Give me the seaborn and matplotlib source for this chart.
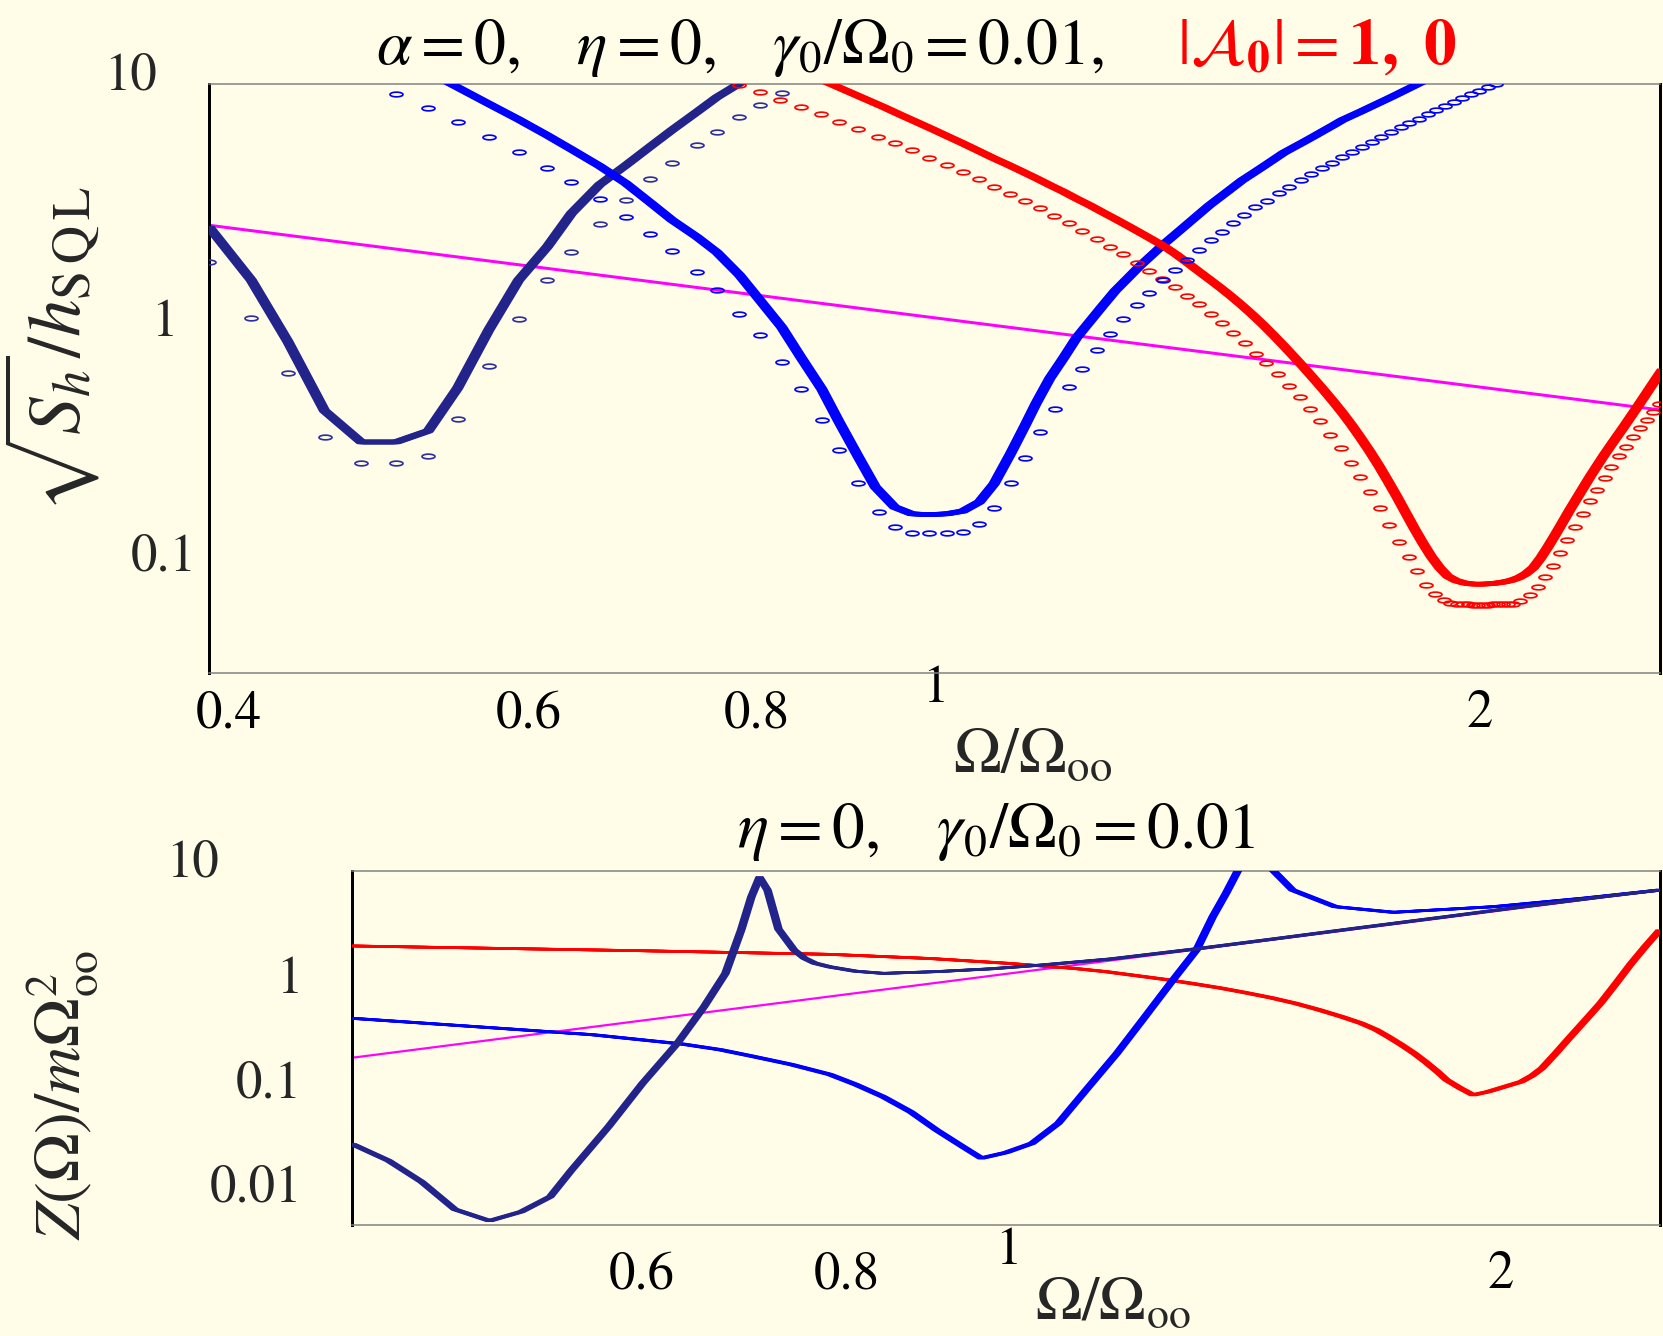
import numpy as np
import matplotlib
matplotlib.use("Agg")
import matplotlib.pyplot as plt
from matplotlib.path import Path
from matplotlib.transforms import ScaledTranslation
from matplotlib.ticker import FixedLocator, NullFormatter, LogLocator
import seaborn as sns

# ---------------- top panel data ----------------
navy_x = [0.400, 0.422, 0.442, 0.463, 0.485, 0.507, 0.528, 0.548, 0.570, 0.592, 0.614,
          0.633, 0.656, 0.678, 0.699, 0.719, 0.742, 0.761, 0.783, 0.804, 0.826]
navy_line_y = [2.44, 1.445, 0.79, 0.40, 0.294, 0.294, 0.328, 0.50, 0.884, 1.445, 2.01,
               2.79, 3.70, 4.47, 5.36, 6.33, 7.56, 8.74, 10.0, 11.3, 12.6]
navy_mark_y = [1.72, 1.00, 0.578, 0.31, 0.239, 0.238, 0.256, 0.37, 0.62, 0.982, 1.44,
               1.91, 2.51, 3.18, 3.90, 4.59, 5.45, 6.23, 7.21, 8.09, 9.14]

blue_line_x = [0.528, 0.548, 0.570, 0.592, 0.614, 0.633, 0.656, 0.678, 0.699, 0.719,
               0.742, 0.761, 0.783, 0.804, 0.826, 0.846, 0.869, 0.888, 0.910, 0.930,
               0.953, 0.974, 0.995, 1.018, 1.039, 1.061, 1.081, 1.104, 1.124, 1.14,
               1.16, 1.18, 1.20, 1.22, 1.24, 1.26, 1.28, 1.30, 1.32, 1.34,
               1.36, 1.38, 1.40, 1.42, 1.44, 1.46, 1.48, 1.50, 1.52, 1.54,
               1.56, 1.58, 1.60, 1.62, 1.64, 1.66, 1.68, 1.70, 1.72, 1.74,
               1.76, 1.78, 1.80, 1.82, 1.84, 1.86, 1.88]
blue_line_y = [11.2, 9.63, 8.19, 7.02, 6.0, 5.23, 4.44, 3.75, 3.11, 2.61,
               2.21, 1.90, 1.52, 1.18, 0.91, 0.68, 0.495, 0.36, 0.255, 0.189,
               0.155, 0.145, 0.144, 0.145, 0.149, 0.163, 0.195, 0.263, 0.345, 0.43,
               0.55, 0.67, 0.82, 0.96, 1.12, 1.30, 1.47, 1.66, 1.85, 2.06,
               2.27, 2.50, 2.75, 3.02, 3.28, 3.56, 3.86, 4.13, 4.42, 4.73,
               5.06, 5.34, 5.63, 5.94, 6.27, 6.61, 6.98, 7.28, 7.59, 7.92,
               8.26, 8.61, 8.98, 9.37, 9.77, 10.19, 10.6]
blue_mark_x = [0.507, 0.528, 0.548, 0.570, 0.592, 0.614, 0.633, 0.656, 0.678, 0.699,
               0.719, 0.742, 0.761, 0.783, 0.804, 0.826, 0.846, 0.869, 0.888, 0.910,
               0.934, 0.953, 0.974, 0.995, 1.018, 1.039, 1.061, 1.081, 1.104, 1.124,
               1.146, 1.167, 1.188, 1.209, 1.231, 1.252, 1.273, 1.295, 1.315, 1.338,
               1.359, 1.380, 1.402, 1.423, 1.443, 1.463, 1.483, 1.505, 1.528, 1.550,
               1.570, 1.594, 1.614, 1.637, 1.658, 1.679, 1.700, 1.722, 1.744, 1.764,
               1.786, 1.809, 1.828, 1.851, 1.872, 1.891, 1.914, 1.936, 1.956, 1.977,
               1.998, 2.020, 2.041]
blue_mark_y = [9.02, 7.88, 6.85, 5.93, 5.10, 4.35, 3.79, 3.20, 2.70, 2.28,
               1.93, 1.57, 1.31, 1.04, 0.84, 0.647, 0.495, 0.365, 0.271, 0.196,
               0.147, 0.127, 0.120, 0.120, 0.120, 0.121, 0.131, 0.154, 0.196, 0.25,
               0.324, 0.405, 0.503, 0.60, 0.726, 0.85, 0.99, 1.13, 1.27, 1.445,
               1.60, 1.77, 1.94, 2.14, 2.33, 2.54, 2.74, 2.96, 3.16, 3.40,
               3.62, 3.87, 4.09, 4.34, 4.59, 4.84, 5.11, 5.37, 5.64, 5.93,
               6.22, 6.54, 6.80, 7.06, 7.38, 7.70, 8.01, 8.36, 8.64, 9.01,
               9.32, 9.69, 10.0]

red_line_x = [0.86, 0.88, 0.90, 0.92, 0.94, 0.96, 0.98, 1.00, 1.02, 1.04, 1.06, 1.08,
              1.10, 1.12, 1.14, 1.16, 1.18, 1.20, 1.22, 1.24, 1.26, 1.28, 1.30, 1.32,
              1.34, 1.36, 1.38, 1.40, 1.42, 1.44, 1.46, 1.48, 1.50, 1.52, 1.54, 1.56,
              1.58, 1.60, 1.62, 1.64, 1.66, 1.68, 1.70, 1.72, 1.74, 1.76, 1.78, 1.80,
              1.82, 1.84, 1.86, 1.88, 1.90, 1.92, 1.94, 1.96, 1.98, 2.00, 2.02, 2.04,
              2.06, 2.08, 2.10, 2.12, 2.14, 2.16, 2.18, 2.20, 2.22, 2.24, 2.26, 2.28,
              2.30, 2.32, 2.34, 2.36, 2.38, 2.40, 2.42, 2.44, 2.46, 2.48, 2.50, 2.52]
red_line_y = [10.73, 9.92, 9.19, 8.53, 7.93, 7.35, 6.84, 6.37, 5.93, 5.53, 5.15, 4.80,
              4.50, 4.21, 3.94, 3.68, 3.45, 3.22, 3.02, 2.82, 2.64, 2.47, 2.31, 2.16,
              2.02, 1.87, 1.72, 1.58, 1.455, 1.34, 1.23, 1.125, 1.025, 0.93, 0.84, 0.757,
              0.681, 0.612, 0.549, 0.492, 0.44, 0.392, 0.347, 0.305, 0.267, 0.232, 0.20, 0.172,
              0.147, 0.126, 0.109, 0.0955, 0.0855, 0.0785, 0.0752, 0.0735, 0.0727, 0.0726, 0.0728, 0.0733,
              0.0741, 0.0753, 0.0773, 0.0805, 0.0855, 0.094, 0.105, 0.118, 0.133, 0.150, 0.168, 0.188,
              0.210, 0.233, 0.258, 0.284, 0.312, 0.342, 0.376, 0.413, 0.454, 0.499, 0.548, 0.60]
red_mark_x = [0.783, 0.804, 0.824, 0.846, 0.868, 0.888, 0.910, 0.933, 0.953, 0.974,
              0.995, 1.018, 1.039, 1.061, 1.081, 1.103, 1.124, 1.146, 1.166, 1.189,
              1.209, 1.231, 1.252, 1.273, 1.295, 1.315, 1.337, 1.359, 1.380, 1.402,
              1.423, 1.443, 1.463, 1.485, 1.507, 1.526, 1.548, 1.570, 1.592, 1.613,
              1.634, 1.655, 1.677, 1.699, 1.719, 1.741, 1.762, 1.783, 1.806, 1.827,
              1.847, 1.868, 1.890, 1.910, 1.926, 1.942, 1.958, 1.970, 1.983, 1.995,
              2.008, 2.021, 2.033, 2.046, 2.060, 2.073, 2.086, 2.104, 2.130, 2.153,
              2.171, 2.193, 2.213, 2.234, 2.256, 2.278, 2.299, 2.320, 2.343, 2.362,
              2.385, 2.405, 2.427, 2.448, 2.471, 2.490, 2.509]
red_mark_y = [9.85, 9.17, 8.50, 7.91, 7.38, 6.87, 6.39, 5.93, 5.55, 5.20,
              4.82, 4.48, 4.20, 3.90, 3.62, 3.37, 3.16, 2.93, 2.72, 2.53,
              2.35, 2.17, 2.01, 1.86, 1.71, 1.585, 1.46, 1.35, 1.24, 1.14,
              1.035, 0.947, 0.861, 0.777, 0.700, 0.638, 0.573, 0.512, 0.456, 0.407,
              0.361, 0.316, 0.277, 0.239, 0.209, 0.179, 0.153, 0.130, 0.110, 0.0949,
              0.0824, 0.0723, 0.0659, 0.0621, 0.0605, 0.0598, 0.0596, 0.0595, 0.0594, 0.0594,
              0.0594, 0.0594, 0.0595, 0.0596, 0.0597, 0.0598, 0.0600, 0.0617, 0.0655, 0.0709,
              0.0777, 0.0869, 0.0983, 0.1125, 0.1268, 0.145, 0.164, 0.184, 0.206, 0.229,
              0.255, 0.281, 0.308, 0.337, 0.366, 0.395, 0.428]

sql_x = [0.40, 1.00, 2.512]
sql_y = [2.48, 1.00, 0.403]

# ---------------- bottom panel data ----------------
z_navy_x = [0.400, 0.421, 0.441, 0.462, 0.485, 0.507, 0.528, 0.544, 0.573, 0.601, 0.631,
            0.655, 0.675, 0.690, 0.700, 0.708, 0.716, 0.727, 0.743, 0.754, 0.765, 0.781,
            0.810, 0.842, 0.907, 0.980, 1.052, 1.160, 1.316, 1.450, 1.645, 1.850, 2.058,
            2.300, 2.500]
z_navy_y = [0.0236, 0.0163, 0.0102, 0.00554, 0.0043, 0.00526, 0.00733, 0.0132, 0.0346, 0.0904, 0.219,
            0.492, 1.03, 2.69, 5.62, 8.64, 6.5, 2.75, 1.73, 1.44, 1.29, 1.19,
            1.08, 1.03, 1.07, 1.14, 1.24, 1.42, 1.80, 2.19, 2.84, 3.60, 4.48,
            5.58, 6.52]
z_blue_x = [0.400, 0.500, 0.560, 0.636, 0.670, 0.700, 0.740, 0.781, 0.810, 0.842, 0.875,
            0.907, 0.940, 0.966, 1.000, 1.037, 1.076, 1.121, 1.168, 1.213, 1.259, 1.306,
            1.336, 1.361, 1.386, 1.415, 1.450, 1.494, 1.586, 1.721, 1.982, 2.250, 2.500]
z_blue_y = [0.381, 0.30, 0.265, 0.215, 0.19, 0.165, 0.137, 0.11, 0.088, 0.067, 0.048,
            0.0322, 0.0225, 0.0172, 0.0195, 0.0239, 0.0373, 0.081, 0.175, 0.381, 0.826, 1.73,
            3.61, 6.06, 10.5, 40.0, 10.5, 6.52, 4.51, 3.98, 4.51, 5.45, 6.52]
z_red_x = [0.400, 0.600, 0.781, 0.900, 1.000, 1.100, 1.150, 1.200, 1.250, 1.300, 1.350,
           1.400, 1.450, 1.500, 1.550, 1.600, 1.645, 1.680, 1.708, 1.740, 1.772, 1.800,
           1.830, 1.854, 1.890, 1.924, 1.965, 2.058, 2.090, 2.119, 2.160, 2.200, 2.250,
           2.300, 2.350, 2.400, 2.450, 2.500]
z_red_y = [1.89, 1.70, 1.57, 1.43, 1.29, 1.15, 1.07, 0.98, 0.90, 0.82, 0.745,
           0.67, 0.60, 0.53, 0.46, 0.395, 0.341, 0.295, 0.254, 0.212, 0.175, 0.145,
           0.117, 0.0972, 0.081, 0.0697, 0.075, 0.0935, 0.107, 0.126, 0.175, 0.243, 0.36,
           0.531, 0.82, 1.27, 1.88, 2.7]
z_free_x = [0.40, 1.00, 2.50]
z_free_y = [0.159, 1.018, 6.52]

# ---------------- style ----------------
BG = "#FFFDE8"
NAVY = "#23238C"
NAVY_M = "#2E2EA0"
BLUE = "#0000FF"
RED = "#FF0000"
MAG = "#FF00FF"

sns.set_style("white", {"axes.facecolor": BG, "figure.facecolor": BG})
plt.rcParams["font.family"] = ["STIXGeneral", "DejaVu Serif"]
plt.rcParams["mathtext.fontset"] = "stix"

DPI = 100
fig = plt.figure(figsize=(16.63, 13.36), dpi=DPI, facecolor=BG)
W, H = 1663.0, 1336.0


def ax_rect(l, t, r, b):
    return [l / W, 1 - b / H, (r - l) / W, (b - t) / H]


ax1 = fig.add_axes(ax_rect(209, 83.5, 1660, 673))
ax2 = fig.add_axes(ax_rect(352, 870.7, 1660, 1225))
for ax in (ax1, ax2):
    ax.set_facecolor(BG)
    ax.set_xscale("log")
    ax.set_yscale("log")

px = 72.0 / DPI  # points per pixel


def brush(ax, x, y, color, lw_px, half_px, n, z):
    for dx in np.linspace(-half_px, half_px, n):
        sns.lineplot(x=x, y=y, ax=ax, color=color, linewidth=lw_px * px, sort=False,
                     estimator=None, legend=False, solid_joinstyle="round",
                     solid_capstyle="butt")
        ln = ax.lines[-1]
        ln.set_transform(ax.transData + ScaledTranslation(dx / DPI, 0, fig.dpi_scale_trans))
        ln.set_zorder(z)


t = np.linspace(0, 2 * np.pi, 41)
ELL = Path(np.column_stack([np.cos(t), 0.36 * np.sin(t)]), closed=True)


def marks(ax, x, y, color, z):
    sns.lineplot(x=x, y=y, ax=ax, linestyle="None", marker=ELL, markersize=13 * px,
                 markerfacecolor="none", markeredgecolor=color,
                 markeredgewidth=1.7 * px, sort=False, estimator=None, legend=False,
                 color=color)
    ax.lines[-1].set_zorder(z)


# ---- top panel ----
sns.lineplot(x=sql_x, y=sql_y, ax=ax1, color=MAG, linewidth=3 * px, estimator=None,
             sort=False, legend=False)
brush(ax1, navy_x, navy_line_y, NAVY, 4.4, 3.4, 6, 3)
brush(ax1, blue_line_x, blue_line_y, BLUE, 4.4, 3.4, 6, 3)
brush(ax1, red_line_x, red_line_y, RED, 4.4, 3.4, 6, 3)
marks(ax1, navy_x, navy_mark_y, NAVY_M, 4)
marks(ax1, red_mark_x, red_mark_y, RED, 4)
marks(ax1, blue_mark_x, blue_mark_y, BLUE, 5)

# ---- bottom panel ----
sns.lineplot(x=z_free_x, y=z_free_y, ax=ax2, color=MAG, linewidth=2.2 * px,
             estimator=None, sort=False, legend=False)
brush(ax2, z_red_x, z_red_y, RED, 2.6, 3, 5, 3)
brush(ax2, z_blue_x, z_blue_y, BLUE, 2.6, 3, 5, 3)
brush(ax2, z_navy_x, z_navy_y, NAVY, 2.6, 3, 5, 3)

# ---- axes cosmetics ----
TICKFS = 38
for ax in (ax1, ax2):
    ax.set_xlabel("")
    ax.set_ylabel("")
    for s in ("top", "bottom"):
        ax.spines[s].set_color("#808080")
        ax.spines[s].set_linewidth(1.5 * px)
    for s in ("left", "right"):
        ax.spines[s].set_color("black")
        ax.spines[s].set_linewidth(3 * px)
    ax.xaxis.set_minor_locator(FixedLocator([0.5, 0.7, 0.9]))
    ax.xaxis.set_minor_formatter(NullFormatter())
    ax.yaxis.set_minor_locator(LogLocator(base=10, subs=np.arange(2, 10)))
    ax.yaxis.set_minor_formatter(NullFormatter())

ax1.set_xticks([0.4, 0.6, 0.8, 1, 2])
ax1.set_xticklabels(["0.4", "0.6", "0.8", "1", "2"])
ax1.set_yticks([0.1, 1, 10])
ax1.set_yticklabels(["0.1", "1", "10"])
ax2.set_xticks([0.6, 0.8, 1, 2])
ax2.set_xticklabels(["0.6", "0.8", "1", "2"])
ax2.set_yticks([0.01, 0.1, 1, 10])
ax2.set_yticklabels(["0.01", "0.1", "1", "10"])
ax1.set_xlim(0.4, 2.512)
ax1.set_ylim(0.0303, 10)
ax2.set_xlim(0.4, 2.5)
ax2.set_ylim(0.00392, 10)

for ax, ypad in ((ax1, 34 * px), (ax2, 39 * px)):
    ax.tick_params(axis="x", which="both", direction="out", length=4 * px, width=1.2 * px,
                   color="#555555", labelsize=TICKFS, labelcolor="black")
    ax.tick_params(axis="y", which="major", direction="out", length=11 * px,
                   width=1.2 * px, color="#666666", labelsize=TICKFS, pad=ypad)
    ax.tick_params(axis="y", which="minor", direction="out", length=8 * px,
                   width=1.2 * px, color="#888888")
ax1.tick_params(axis="x", which="major", pad=13 * px)
ax2.tick_params(axis="x", which="major", pad=22 * px)
for lab in ax1.get_yticklabels():
    lab.set_ha("center")


def shift(label, dx_px, dy_px):
    label.set_transform(label.get_transform() +
                        ScaledTranslation(dx_px / DPI, -dy_px / DPI, fig.dpi_scale_trans))


# Maple-style tick-label quirks
xt1 = ax1.xaxis.get_major_ticks()
shift(xt1[0].label1, 20, 0)     # 0.4
shift(xt1[3].label1, 3, -25)    # 1
yt1 = ax1.yaxis.get_major_ticks()
shift(yt1[2].label1, -33, -13)  # 10
xt2 = ax2.xaxis.get_major_ticks()
shift(xt2[2].label1, 2, -24)    # 1
yt2 = ax2.yaxis.get_major_ticks()
shift(yt2[3].label1, -83, -13)  # 10

# ---- labels ----
ax1.set_xlabel(r"$\Omega/\Omega_{\mathrm{oo}}$", fontsize=46, va="top")
ax1.xaxis.set_label_coords((1033 - 209) / 1451, (673 - 728) / 589.5)
ax1.set_ylabel(r"$\sqrt{S_h}/h_{\mathrm{S\,Q\,L}}$", fontsize=54, va="center", ha="center")
ax1.yaxis.set_label_coords((52 - 209) / 1451, (673 - 350) / 589.5)

ax2.set_xlabel(r"$\Omega/\Omega_{\mathrm{oo}}$", fontsize=45, va="top")
ax2.xaxis.set_label_coords((1113 - 352) / 1308, (1225 - 1276) / 354.3)
ax2.set_ylabel(r"$Z(\Omega)/m\Omega^2_{\mathrm{oo}}$", fontsize=47, va="center", ha="center")
ax2.yaxis.set_label_coords((62 - 352) / 1308, (1225 - 1095) / 354.3)

# ---- titles ----
fig.text(376 / W, 1 - 64 / H, r"$\alpha = 0,\quad \eta = 0,\quad \gamma_0/\Omega_0 = 0.01,$",
         fontsize=46, color="black", ha="left", va="baseline")
fig.text(1177 / W, 1 - 64 / H, r"$|\mathcal{A}_\mathbf{0}| = \mathbf{1,\ 0}$",
         fontsize=47, color=RED, ha="left", va="baseline")
fig.text(737 / W, 1 - 848 / H, r"$\eta = 0,\quad \gamma_0/\Omega_0 = 0.01$",
         fontsize=47, color="black", ha="left", va="baseline")

fig.savefig("out.png", dpi=DPI, facecolor=BG)
